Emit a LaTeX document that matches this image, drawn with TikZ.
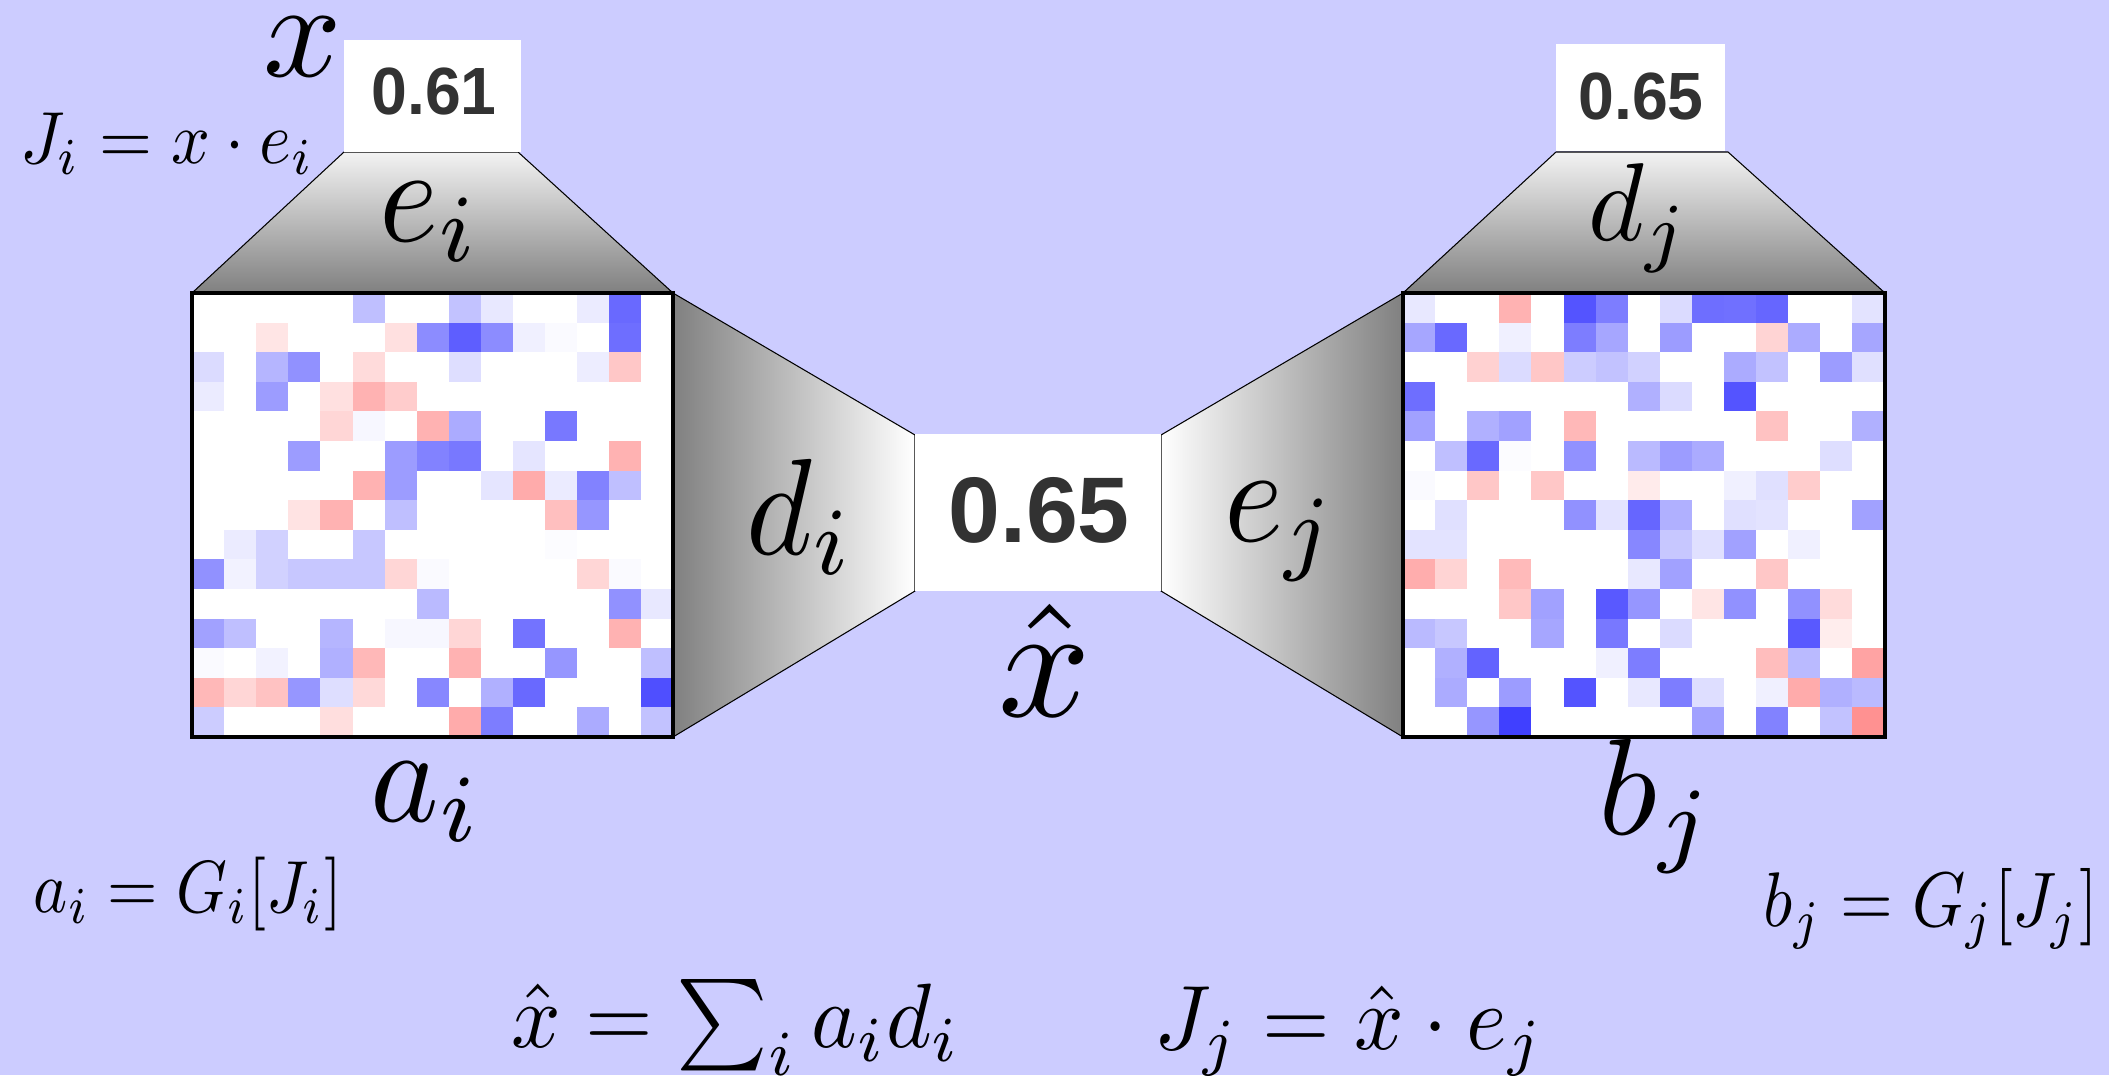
\documentclass[tikz,border=0pt]{standalone}
\usepackage{fontspec}
\setsansfont{Liberation Sans}
\definecolor{backblue}{RGB}{204,204,255}
\definecolor{scoregray}{RGB}{50,50,50}
\definecolor{funnelgray}{RGB}{128,128,128}
\tikzset{
  funnel/.style={draw=black,line width=0.3pt},
  scorebox/.style={fill=white},
  score/.style={text=scoregray,font=\sffamily\bfseries,inner sep=0pt},
  smallscore/.style={score,xscale=1.83,yscale=1.9},
  mathlabel/.style={inner sep=0pt},
  bigmath/.style={mathlabel,xscale=3.6,yscale=3.9},
  smallmath/.style={mathlabel,xscale=1.9,yscale=2.1},
  widemath/.style={mathlabel,xscale=2.47,yscale=2.6},
  gridframe/.style={draw=black,line width=1pt}
}
\newcommand{\heatcells}[3]{%
  \foreach \rowvals [count=\r from 0] in {#3} {
    \foreach \v [count=\c from 0] in \rowvals {
      \ifnum\v>0 \fill[blue!\v!white] ({#1+\c*32.1},{#2+\r*29.6}) rectangle++ (32.1,29.6); \fi
      \ifnum\v<0 \pgfmathtruncatemacro{\w}{-\v}
        \fill[red!\w!white] ({#1+\c*32.1},{#2+\r*29.6}) rectangle++ (32.1,29.6); \fi
    }
  }%
}
\begin{document}
\begin{tikzpicture}[x=0.01cm,y=-0.01cm]
  \fill[backblue] (0,0) rectangle (2109,1075);
  \useasboundingbox (0,0) rectangle (2109,1075);
  %funnels
  \shadedraw[funnel,top color=white!95!black,bottom color=funnelgray] (344,152) -- (518,152) -- (673,293) -- (192,293) -- cycle;
  \shadedraw[funnel,top color=white!95!black,bottom color=funnelgray] (1556,152) -- (1728,152) -- (1885,293) -- (1403,293) -- cycle;
  \shadedraw[funnel,left color=funnelgray,right color=white] (673,293) -- (915,435) -- (915,591) -- (673,737) -- cycle;
  \shadedraw[funnel,left color=white,right color=funnelgray] (1161,435) -- (1403,293) -- (1403,737) -- (1161,591) -- cycle;
  %score boxes
  \fill[scorebox] (344,40) rectangle (521,152);
  \fill[scorebox] (1556,44) rectangle (1725,151);
  \fill[scorebox] (915,434) rectangle (1161,591);
  \node[smallscore] (scorei) at (434,91) {0.61};
  \node[smallscore] (scorej) at (1641,96) {0.65};
  \node[score,scale=2.65] (scorex) at (1039,510) {0.65};
  %left map
  \fill[white] (192,293) rectangle (673,737);
  \heatcells{192}{293}{
    {0,0,0,0,0,25,0,0,24,9,0,0,8,59,0},
    {0,0,-10,0,0,0,-12,45,63,45,6,2,0,57,0},
    {14,0,29,43,0,-14,0,0,13,0,0,0,7,-22,0},
    {8,0,39,0,-12,-30,-20,0,0,0,0,0,0,0,0},
    {0,0,0,0,-16,3,0,-30,33,0,0,53,0,0,0},
    {0,0,0,39,0,0,39,49,53,0,10,0,0,-30,0},
    {0,0,0,0,0,-30,39,0,0,10,-33,8,49,25,0},
    {0,0,0,-11,-30,0,25,0,0,0,0,-25,41,0,0},
    {0,8,18,0,0,22,0,0,0,0,0,1,0,0,0},
    {43,5,18,22,22,22,-16,2,0,0,0,0,-16,2,0},
    {0,0,0,0,0,0,0,27,0,0,0,0,0,43,9},
    {37,25,0,0,29,0,3,3,-16,0,55,0,0,-30,0},
    {2,0,5,0,31,-28,0,0,-30,0,0,41,0,0,25},
    {-28,-16,-24,41,13,-15,0,47,0,31,59,0,0,0,69},
    {20,0,0,0,-13,0,0,0,-33,51,0,0,33,0,24}}
  \draw[gridframe] (192,293) rectangle (673,737);
  %right map
  \fill[white] (1403,293) rectangle (1885,737);
  \heatcells{1403}{293}{
    {9,0,0,-30,0,67,51,0,14,57,56,60,0,0,11},
    {35,59,0,6,0,51,35,0,39,0,0,-17,33,0,35},
    {0,0,-18,14,-22,20,24,18,0,0,33,24,0,39,12},
    {57,0,0,0,0,0,0,31,14,0,67,0,0,0,0},
    {37,0,31,37,0,-28,0,0,0,0,0,-24,0,0,31},
    {0,25,59,1,0,43,0,27,39,33,0,0,0,13,0},
    {2,0,-22,0,-22,0,0,-8,0,0,6,12,-20,0,0},
    {0,12,0,0,0,43,11,60,31,0,12,11,0,0,37},
    {11,11,0,0,0,0,0,47,22,12,37,0,6,0,0},
    {-32,-17,0,-27,0,0,0,9,37,0,0,-22,0,0,0},
    {0,0,0,-22,37,0,65,41,0,-10,43,0,43,-14,0},
    {27,22,0,0,35,0,53,0,14,0,0,0,65,-7,0},
    {0,31,61,0,0,0,6,51,0,0,0,-26,27,0,-36},
    {0,33,0,39,0,67,0,9,51,13,0,6,-33,31,27},
    {0,0,41,75,0,0,0,0,0,37,0,49,0,24,-43}}
  \draw[gridframe] (1403,293) rectangle (1885,737);
  %labels
  \node[mathlabel,scale=3.9] (x) at (303,47) {$x$};
  \node[bigmath] (ei) at (430,222) {$e_i$};
  \node[mathlabel,xscale=3.05,yscale=3.15] (dj) at (1639,218) {$d_j$};
  \node[bigmath] (di) at (801,517) {$d_i$};
  \node[bigmath] (ej) at (1281,532) {$e_j$};
  \node[mathlabel,scale=4.6] (xhat) at (1045,660) {$\hat{x}$};
  \node[mathlabel,xscale=3.7,yscale=3.9] (ai) at (427,802) {$a_i$};
  \node[mathlabel,scale=3.9] (bj) at (1657,806) {$b_j$};
  %formulas
  \node[smallmath,xscale=1.02] (Ji) at (167,144) {$J_i = x \cdot e_i$};
  \node[smallmath,xscale=0.97] (aiform) at (188,894) {$a_i = G_i[J_i]$};
  \node[mathlabel,xscale=1.93,yscale=2.2] (bjform) at (1931,909) {$b_j = G_j[J_j]$};
  \node[widemath] (xform) at (736,1027) {$\hat{x} = \sum_i a_i d_i$};
  \node[widemath] (Jj) at (1349,1031) {$J_j = \hat{x} \cdot e_j$};
\end{tikzpicture}
\end{document}
